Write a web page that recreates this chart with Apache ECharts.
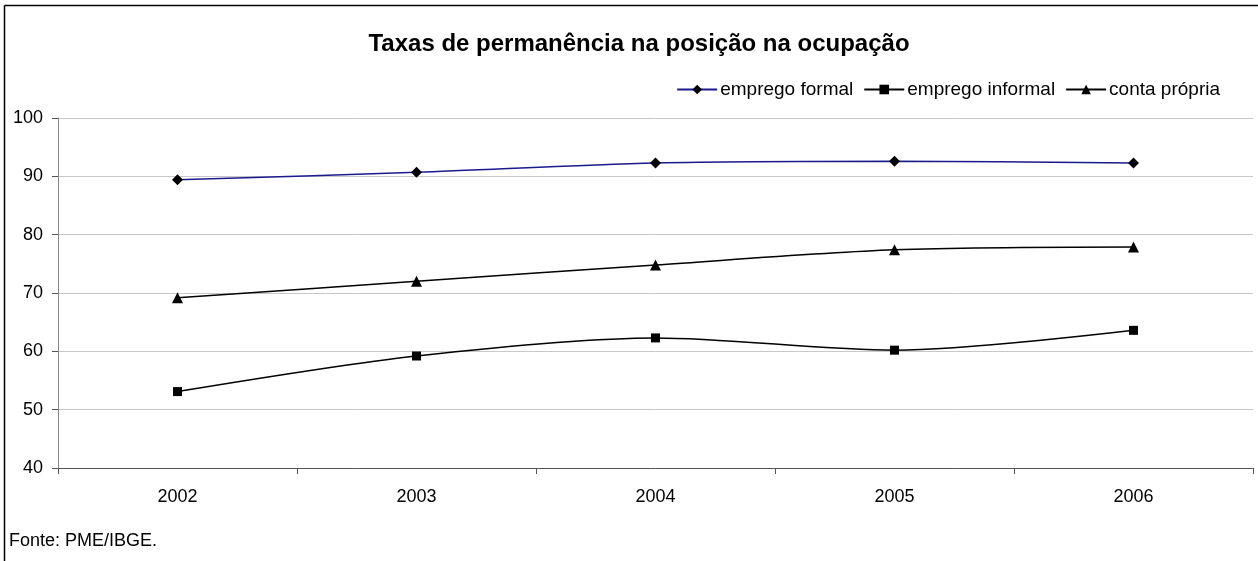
<!DOCTYPE html>
<html><head><meta charset="utf-8">
<script src="https://cdn.jsdelivr.net/npm/echarts@6/dist/echarts.min.js"></script>
<style>html,body{margin:0;padding:0;background:#fff}#c{width:1258px;height:561px}</style>
</head><body><div id="c"></div>
<script>
const categories = ['2002','2003','2004','2005','2006'];
const empregoFormal = [89.4, 90.7, 92.3, 92.6, 92.3];
const empregoInformal = [53.1, 59.2, 62.3, 60.2, 63.6];
const contaPropria = [69.2, 72.0, 74.8, 77.4, 77.9];
const yTicks = [40, 50, 60, 70, 80, 90, 100];

const chart = echarts.init(document.getElementById('c'));
const font = 'Liberation Sans, Arial, sans-serif';
chart.setOption({
  animation: false,
  backgroundColor: '#fff',
  title: {
    text: 'Taxas de permanência na posição na ocupação',
    left: 634, top: 27, textAlign: 'center',
    textStyle: {fontFamily: font, fontSize: 24, fontWeight: 'bold', color: '#000'}
  },
  legend: {
    right: 33, top: 75, itemWidth: 40, itemHeight: 12, itemGap: 10,
    textStyle: {fontFamily: font, fontSize: 19, color: '#000', padding: [0,0,0,-2]},
    data: ['emprego formal', 'emprego informal', 'conta própria']
  },
  grid: {left: 58, right: 5, top: 118, bottom: 93, containLabel: false},
  xAxis: {
    type: 'category', data: categories, boundaryGap: true,
    axisLine: {lineStyle: {color: '#555', width: 1}},
    axisTick: {show: true, inside: false, length: 6, lineStyle: {color: '#555'}},
    axisLabel: {fontFamily: font, fontSize: 18, color: '#000', margin: 20},
    splitLine: {show: false}
  },
  yAxis: {
    type: 'value', min: yTicks[0], max: yTicks[yTicks.length-1], interval: 10,
    axisLine: {show: true, lineStyle: {color: '#888'}},
    axisTick: {show: true, length: 6, lineStyle: {color: '#555'}},
    axisLabel: {fontFamily: font, fontSize: 18, color: '#000', margin: 15},
    splitLine: {lineStyle: {color: '#c8c8c8', width: 1}}
  },
  series: [
    {name: 'emprego formal', type: 'line', data: empregoFormal, smooth: 0.3,
     symbol: 'diamond', symbolSize: 11, lineStyle: {color: '#1a1a8c', width: 1.5},
     itemStyle: {color: '#000', borderWidth: 0}},
    {name: 'emprego informal', type: 'line', data: empregoInformal, smooth: 0.3,
     symbol: 'rect', symbolSize: 9, lineStyle: {color: '#000', width: 1.5},
     itemStyle: {color: '#000', borderWidth: 0}},
    {name: 'conta própria', type: 'line', data: contaPropria, smooth: 0.3,
     symbol: 'triangle', symbolSize: 11, lineStyle: {color: '#000', width: 1.5},
     itemStyle: {color: '#000', borderWidth: 0}}
  ],
  graphic: [
    {type: 'line', shape: {x1: 4.5, y1: 5.5, x2: 1258, y2: 5.5}, style: {stroke: '#000', lineWidth: 1.5}},
    {type: 'line', shape: {x1: 4.5, y1: 5.5, x2: 4.5, y2: 561}, style: {stroke: '#000', lineWidth: 1.5}},
    {type: 'text', left: 9, top: 532, style: {text: 'Fonte: PME/IBGE.', fontFamily: font, fontSize: 18, fill: '#000'}}
  ]
});
</script></body></html>
